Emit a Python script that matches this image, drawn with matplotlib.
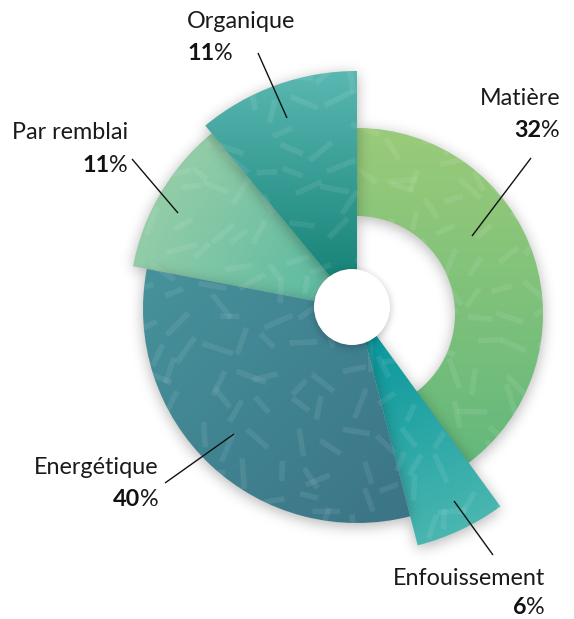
import numpy as np
import matplotlib
matplotlib.use("Agg")
import matplotlib.pyplot as plt
from matplotlib.patches import Wedge, Circle
from matplotlib.collections import LineCollection
from matplotlib.colors import to_rgb

# ---------------- data ----------------
categories = ["Matière", "Enfouissement", "Energétique", "Par remblai", "Organique"]
percent_labels = [32, 6, 40, 11, 11]
# angular share of each sector as drawn in the reference (percent of a full turn)
sector_shares = [40, 6, 32, 11, 11]

# ---------------- style ----------------
outer_r = [186, 244, 214, 228, 238]
inner_r = [98, 0, 0, 0, 0]
centre_shift = [(0, -5), (0, 0), (0, 0), (0, 0), (0, 0)]
grad_a = ["#9acb79", "#00939a", "#46929b", "#93cda8", "#5ab8b2"]
grad_b = ["#64b87c", "#4ab6b0", "#3b7486", "#52b69f", "#0e7c70"]
grad_mode = ["vertical", "radial", "diag", "radial_inv", "vertical"]
draw_order = [0, 1, 3, 2, 4]

W, H = 574, 619
CX, CY = 357, 309  # pixel position of chart centre


def P(px, py):
    return px - CX, CY - py


fig = plt.figure(figsize=(W / 100, H / 100), dpi=100)
ax = fig.add_axes([0, 0, 1, 1])
ax.set_xlim(-CX, W - CX)
ax.set_ylim(CY - H, CY)
ax.axis("off")

xs = -CX + np.arange(W) + 0.5
ys = CY - (np.arange(H) + 0.5)
X, Y = np.meshgrid(xs, ys)
extent = (-CX, W - CX, CY - H, CY)


def blur(a, sigma):
    r = int(3 * sigma)
    t = np.arange(-r, r + 1)
    k = np.exp(-t ** 2 / (2 * sigma ** 2))
    k /= k.sum()
    a = np.apply_along_axis(lambda v: np.convolve(v, k, mode="same"), 0, a)
    a = np.apply_along_axis(lambda v: np.convolve(v, k, mode="same"), 1, a)
    return a


def shadow_image(mask, sigma=7, dy=3, alpha=0.30):
    m = np.roll(mask.astype(float), dy, axis=0)
    b = blur(m, sigma)
    img = np.zeros((H, W, 4))
    img[..., 3] = np.clip(b * alpha, 0, 1)
    return img


def h(k, s):
    v = np.sin(k * 12.9898 + s * 78.233) * 43758.5453
    return v - np.floor(v)


# texture dashes (decorative, deterministic hash)
segs = []
k = 0
step = 30
for gy in np.arange(CY - H, CY + 30, step):
    for gx in np.arange(-CX, W - CX + 30, step):
        k += 1
        cx = gx + (h(k, 1) - 0.5) * 26
        cy = gy + (h(k, 2) - 0.5) * 26
        ang = np.radians(h(k, 3) * 180)
        ln = 9 + h(k, 4) * 7
        segs.append([(cx - ln * np.cos(ang), cy - ln * np.sin(ang)),
                     (cx + ln * np.cos(ang), cy + ln * np.sin(ang))])

starts = np.concatenate([[0], np.cumsum(sector_shares)[:-1]]) * 3.6
ends = np.cumsum(sector_shares) * 3.6

for layer, i in enumerate(draw_order):
    a1, a2 = starts[i], ends[i]
    ro, ri = outer_r[i], inner_r[i]
    ox, oy = centre_shift[i]
    Xi, Yi = X - ox, Y - oy
    Ri = np.hypot(Xi, Yi)
    Ai = (90 - np.degrees(np.arctan2(Yi, Xi))) % 360
    z = 10 + layer * 5
    mask = (Ri <= ro) & (Ri >= ri) & (Ai >= a1) & (Ai <= a2)
    ax.imshow(shadow_image(mask), extent=extent, origin="upper", zorder=z,
              interpolation="bilinear")
    wedge = Wedge((ox, oy), ro, 90 - a2, 90 - a1,
                  width=(ro - ri) if ri > 0 else None,
                  facecolor="none", edgecolor="none", zorder=z + 1)
    ax.add_patch(wedge)
    if grad_mode[i] == "vertical":
        t = (ro - Yi) / (ro - Yi[mask].min() + 1e-9)
    elif grad_mode[i] == "radial":
        t = Ri / ro
    elif grad_mode[i] == "radial_inv":
        t = 1 - Ri / ro
    else:
        d = (Xi - Yi) / np.sqrt(2)
        t = (d - d[mask].min()) / (d[mask].max() - d[mask].min())
    t = np.clip(t, 0, 1)[..., None]
    ca, cb = np.array(to_rgb(grad_a[i])), np.array(to_rgb(grad_b[i]))
    img = ca * (1 - t) + cb * t
    im = ax.imshow(img, extent=extent, origin="upper", zorder=z + 1,
                   interpolation="bilinear")
    im.set_clip_path(wedge)
    lc = LineCollection(segs, colors=[(1, 1, 1, 0.08)], linewidths=4.0,
                        capstyle="butt", zorder=z + 2)
    ax.add_collection(lc)
    lc.set_clip_path(wedge)

# white centre disc with soft shadow
hc = P(352, 307)
hole_mask = np.hypot(X - hc[0], Y - hc[1]) <= 38
ax.imshow(shadow_image(hole_mask, sigma=4, dy=2, alpha=0.25), extent=extent,
          origin="upper", zorder=60, interpolation="bilinear")
ax.add_patch(Circle(hc, 38, facecolor="white", edgecolor="none", zorder=61))

# ---------------- labels ----------------
FONT = "Lato"
FS = 16.8
label_layout = [
    (560, 105, 137, "right"),
    (545, 585, 614, "right"),
    (159, 474, 506, "right"),
    (128, 139, 172, "right"),
    (187, 28, 60, "left"),
]
leader_lines = [
    ((531, 158), (472, 236)),
    ((493, 555), (454, 501)),
    ((165, 483), (234, 434)),
    ((132, 159), (178, 213)),
    ((258, 53), (287, 118)),
]

for i, name in enumerate(categories):
    lx, by1, by2, al = label_layout[i]
    ax.text(*P(lx, by1), name, ha=al, va="baseline", fontsize=FS,
            family=FONT, color="#1a1a1a", zorder=80)
    num = f"{percent_labels[i]}"
    if al == "right":
        pt = ax.text(*P(lx, by2), "%", ha="right", va="baseline", fontsize=FS,
                     family=FONT, color="#1a1a1a", zorder=80)
        ax.annotate(num, xy=(0, 0), xycoords=pt, ha="right", va="bottom",
                    fontsize=FS, family=FONT, fontweight="bold", color="#111111",
                    zorder=80)
    else:
        nt = ax.text(*P(lx, by2), num, ha="left", va="baseline", fontsize=FS,
                     family=FONT, fontweight="bold", color="#111111", zorder=80)
        ax.annotate("%", xy=(1, 0), xycoords=nt, ha="left", va="bottom",
                    fontsize=FS, family=FONT, color="#1a1a1a", zorder=80)
    (p1, p2) = leader_lines[i]
    ax.plot(*zip(P(*p1), P(*p2)), color="#111111", lw=1.0, zorder=81,
            solid_capstyle="butt")

fig.savefig("out.png", dpi=100, facecolor="white")
